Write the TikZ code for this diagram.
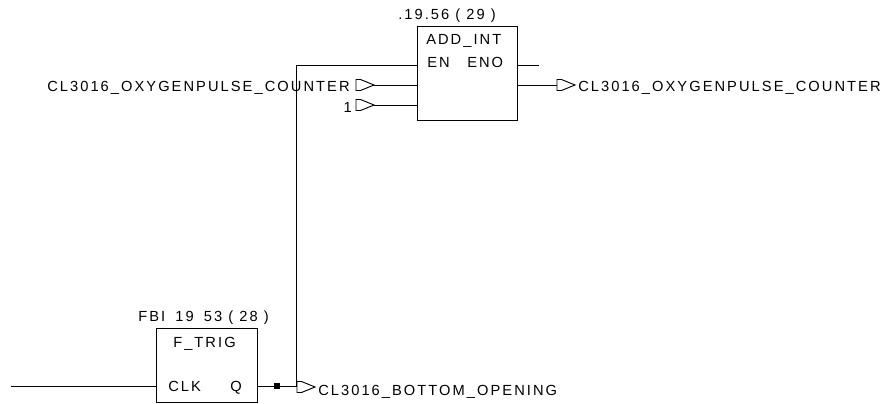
\documentclass[tikz,border=0pt]{standalone}
\usepackage{fontspec}
\setmainfont{Liberation Sans}
\newfontfamily\labfont[LetterSpace=14]{Liberation Sans}
\newcommand{\connsym}[1]{\draw[symline] ([xshift=4.5*0.75pt,yshift=5.5*0.75pt]#1) -- ([yshift=5.5*0.75pt]#1) -- ([yshift=-5.5*0.75pt]#1) -- ([xshift=4.5*0.75pt,yshift=-5.5*0.75pt]#1) -- ([xshift=18*0.75pt]#1) -- cycle;}
\tikzset{
  px/.style={x=0.75pt,y=-0.75pt},
  block/.style={draw=black,line width=1pt,fill=white,rectangle,inner sep=0pt,anchor=north west},
  wire/.style={draw=black,line width=0.75pt},
  symline/.style={draw=black,line width=0.7pt},
  lab/.style={font=\labfont\fontsize{11}{12}\selectfont,text=black,inner sep=0pt,anchor=base west},
  labr/.style={lab,anchor=base east},
  jdot/.style={fill=black,draw=none,rectangle,minimum size=4pt,inner sep=0pt},
}
\begin{document}
\begin{tikzpicture}[px]
\useasboundingbox[fill=white] (0,0) rectangle (887,403);
\node[block,minimum width=75pt,minimum height=70.5pt] (add) at (417,26) {};
\node[block,minimum width=75.75pt,minimum height=55.5pt] (trig) at (156,328) {};
% named ends
\coordinate (enIn) at (add.north west |- 0,66);
\coordinate (in1) at (add.north west |- 0,85);
\coordinate (in2) at (add.north west |- 0,105);
\coordinate (enoOut) at (add.north east |- 0,66);
\coordinate (valOut) at (add.north east |- 0,85);
\coordinate (enoEnd) at (539,66);
\coordinate (s1) at (356,85);
\coordinate (s2) at (356,105);
\coordinate (s3) at (557,85);
\coordinate (s4) at (297,387);
\coordinate (s1t) at (374,85);
\coordinate (s2t) at (374,105);
\coordinate (clkIn) at (trig.north west |- 0,386);
\coordinate (qOut) at (trig.north east |- 0,386);
\coordinate (start) at (11,386);
\coordinate (bend) at (296,386);
\coordinate (top) at (296,66);
% texts
\node[lab] (t5) at (47,91) {CL3016\_OXYGENPULSE\_COUNTER};
\node[lab] (t1) at (398,20) {.19.56 ( 29 )};
\node[lab] (t2) at (426,45) {ADD\_INT};
\node[lab] (t3) at (427,68) {EN};
\node[lab] (t4) at (467,68) {ENO};
\node[labr] (t6) at (352,112) {1};
\node[lab] (t7) at (578,91) {CL3016\_OXYGENPULSE\_COUNTER};
\node[lab] (t8) at (138,321) {FBI\hspace{3pt} 19\hspace{3pt} 53 ( 28 )};
\node[lab] (t9) at (173,347) {F\_TRIG};
\node[lab] (t10) at (168,391) {CLK};
\node[lab] (t11) at (230,391) {Q};
\node[lab] (t12) at (318,395) {CL3016\_BOTTOM\_OPENING};
% connectors
\node[jdot] (dot) at (277,386) {};
\draw[wire] (start) -- (clkIn);
\draw[wire] (qOut) -- (dot) -- (bend) -- (top) -- (enIn);
\draw[wire] (s1t) -- (in1);
\draw[wire] (s2t) -- (in2);
\draw[wire] (enoOut) -- (enoEnd);
\draw[wire] (valOut) -- (s3);
\connsym{s1}
\connsym{s2}
\connsym{s3}
\connsym{s4}
\end{tikzpicture}
\end{document}
